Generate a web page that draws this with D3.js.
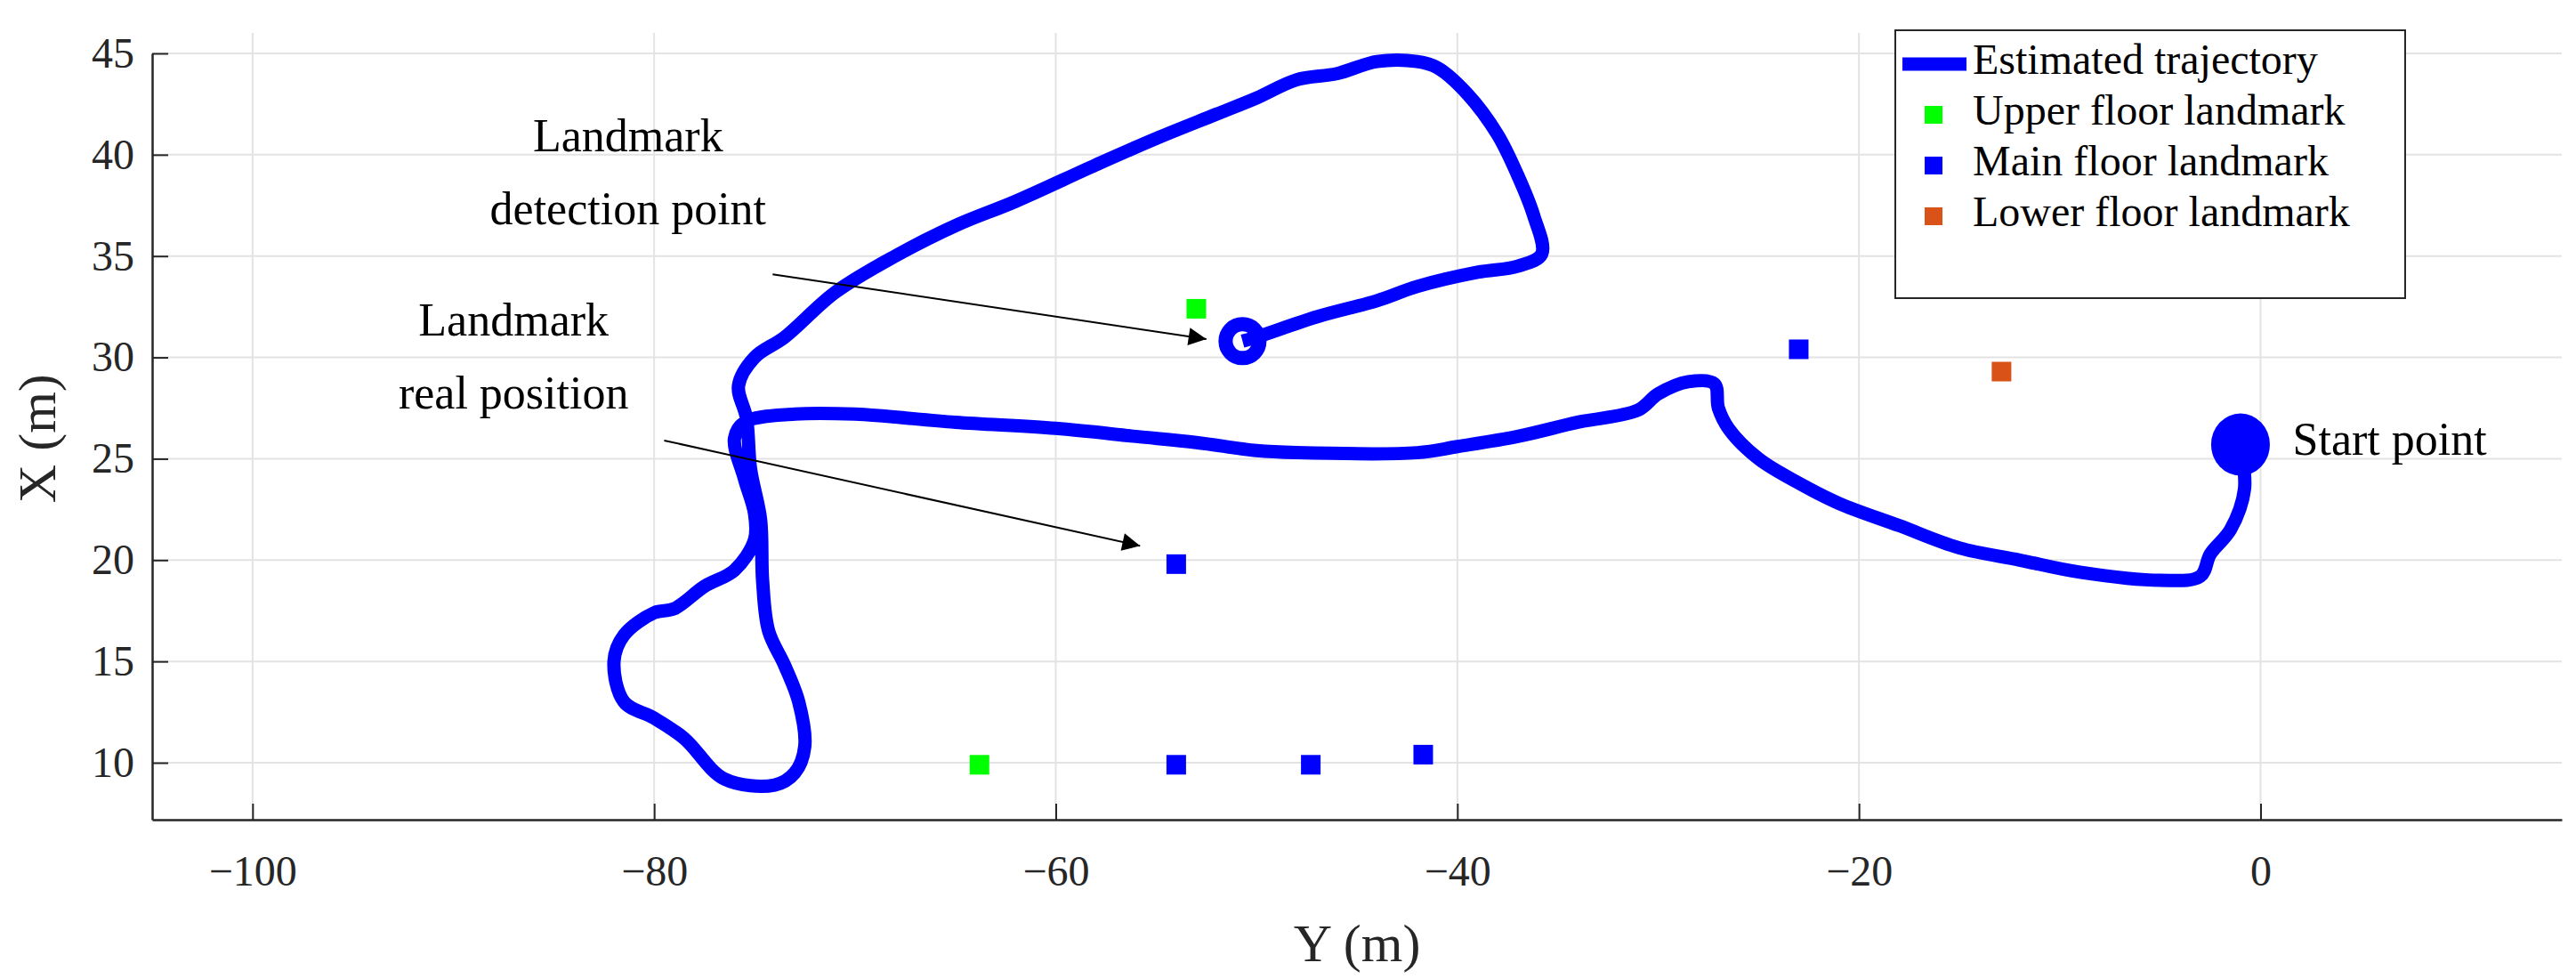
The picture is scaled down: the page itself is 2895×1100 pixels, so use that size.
<!DOCTYPE html>
<html><head><meta charset="utf-8">
<script src="https://cdn.jsdelivr.net/npm/d3@7"></script>
<style>body{margin:0;background:#fff}svg text{font-family:'Liberation Serif','Tinos','DejaVu Serif',serif !important}</style>
</head><body><svg id="c" width="2895" height="1100"></svg>
<script>
// trajectory in (Y, X) metres
var traj = [[-1,25.7],[-0.8,23.5],[-1.5,21.5],[-2.5,20.3],[-3,19.2],[-5,19.0],[-9,19.4],[-12,20.0],[-15,20.6],
 [-18,21.7],[-21,22.8],[-23,23.8],[-25,25.0],[-26.5,26.5],[-27,27.5],[-27.2,28.7],[-28.5,28.8],[-30,28.2],[-31,27.4],
 [-34,26.8],[-37,26.1],[-40,25.6],[-42,25.3],[-48,25.3],[-50,25.4],[-53,25.8],[-56,26.1],[-60,26.5],[-65,26.8],
 [-70,27.2],[-73,27.2],[-75.5,26.8],[-76,26.0],[-75.5,24],[-75,22.3],[-75,21],[-76,19.5],[-77.5,18.7],[-79,17.6],
 [-80,17.4],[-81.5,16.3],[-82,15],[-81.5,13],[-80,12.2],[-78.5,11.2],[-76.5,9.2],[-74,8.9],[-73,9.5],[-72.5,10.8],
 [-72.8,13],[-73.5,14.8],[-74.3,16.5],[-74.6,19],[-74.7,22],[-75.2,24.5],[-75.4,27],[-75.8,28.6],[-75,30],[-73.5,31],
 [-71,33.2],[-68,35],[-65,36.5],[-62,37.7],[-58,39.5],[-55,40.8],[-52,42],[-50,42.8],[-48,43.7],[-46,44],[-44,44.6],
 [-42,44.6],[-41,44.3],[-39.5,43],[-38,41],[-37,39],[-36.2,37],[-35.8,35.1],[-37,34.5],[-39,34.2],[-42,33.5],
 [-44,32.8],[-47,32],[-50,31],[-50.7,30.8]];
var startPt = [-1,25.7];
var endPt = [-50.7,30.8];
var upperLm = [[-53,32.4],[-63.8,9.9]];
var mainLm = [[-23,30.4],[-54,19.8],[-54,9.9],[-47.3,9.9],[-41.7,10.4]];
var lowerLm = [[-12.9,29.3]];
var xTicks = [-100,-80,-60,-40,-20,0];
var yTicks = [10,15,20,25,30,35,40,45];

var svg = d3.select("#c");
var L=171,R=2879,T=37,B=921;
var x = d3.scaleLinear().domain([-105,15]).range([L,R]);
var y = d3.scaleLinear().domain([7.19,45]).range([B,60]);

var g = svg.append("g");
xTicks.forEach(function(t){g.append("line").attr("x1",x(t)).attr("x2",x(t)).attr("y1",B).attr("y2",T).attr("stroke","#e3e3e3").attr("stroke-width",2);});
yTicks.forEach(function(t){g.append("line").attr("x1",L).attr("x2",R).attr("y1",y(t)).attr("y2",y(t)).attr("stroke","#e3e3e3").attr("stroke-width",2);});

var xa = svg.append("g").attr("transform","translate(0,"+B+")").call(d3.axisBottom(x).tickValues(xTicks).tickSizeInner(-18).tickSizeOuter(0).tickPadding(40).tickFormat(function(d){return d<0?"\u2212"+(-d):d;}));
var ya = svg.append("g").attr("transform","translate("+L+",0)").call(d3.axisLeft(y).tickValues(yTicks).tickSizeInner(-18).tickSizeOuter(0).tickPadding(20));
[xa,ya].forEach(function(a){a.attr("font-family",null);
 a.select(".domain").attr("stroke","#262626").attr("stroke-width",2.5);
 a.selectAll(".tick line").attr("stroke","#262626").attr("stroke-width",2);
 a.selectAll("text").attr("font-size",48).attr("fill","#262626");});

svg.append("text").attr("x",x(-45)).attr("y",1080).attr("text-anchor","middle").attr("font-size",60).attr("fill","#262626").text("Y (m)");
svg.append("text").attr("transform","translate(62,"+y(26)+") rotate(-90)").attr("text-anchor","middle").attr("font-size",60).attr("fill","#262626").text("X (m)");

var line = d3.line().curve(d3.curveCatmullRom).x(function(d){return x(d[0]);}).y(function(d){return y(d[1]);});
svg.append("path").datum(traj).attr("d",line).attr("fill","none").attr("stroke","#0000ff").attr("stroke-width",15).attr("stroke-linejoin","round");
svg.append("circle").attr("cx",x(endPt[0])).attr("cy",y(endPt[1])).attr("r",19).attr("fill","none").attr("stroke","#0000ff").attr("stroke-width",16);
svg.append("ellipse").attr("cx",x(startPt[0])).attr("cy",y(startPt[1])).attr("rx",33).attr("ry",35).attr("fill","#0000ff");

function squares(arr,col){arr.forEach(function(d){svg.append("rect").attr("x",x(d[0])-11).attr("y",y(d[1])-11).attr("width",22).attr("height",22).attr("fill",col);});}
squares(upperLm,"#00ff00");squares(mainLm,"#0000ff");squares(lowerLm,"#d95319");

svg.append("defs").append("marker").attr("id","ah").attr("viewBox","0 0 10 10").attr("refX",10).attr("refY",5)
 .attr("orient","auto").attr("markerUnits","userSpaceOnUse")
 .attr("markerWidth",28).attr("markerHeight",20).append("path").attr("d","M0,0L10,5L0,10z").attr("fill","#000");
function arrow(a,b){svg.append("line").attr("x1",x(a[0])).attr("y1",y(a[1])).attr("x2",x(b[0])).attr("y2",y(b[1])).attr("stroke","#000").attr("stroke-width",2).attr("marker-end","url(#ah)");}
arrow([-74.1,34.1],[-52.5,30.9]);
arrow([-79.5,25.9],[-55.8,20.7]);
function label(t,d){svg.append("text").attr("x",x(d[0])).attr("y",y(d[1])).attr("text-anchor","middle").attr("dominant-baseline","middle").attr("font-size",52).attr("fill","#000").text(t);}
label("Landmark",[-81.3,40.7]);label("detection point",[-81.3,37.1]);
label("Landmark",[-87,31.6]);label("real position",[-87,28.0]);
svg.append("text").attr("x",x(1.6)).attr("y",y(25.7)).attr("dominant-baseline","middle").attr("font-size",52).text("Start point");

var lg = svg.append("g");
lg.append("rect").attr("x",2130).attr("y",34).attr("width",573).attr("height",301).attr("fill","#fff").attr("stroke","#262626").attr("stroke-width",2);
var items=[["Estimated trajectory","line","#0000ff"],["Upper floor landmark","sq","#00ff00"],["Main floor landmark","sq","#0000ff"],["Lower floor landmark","sq","#d95319"]];
items.forEach(function(it,i){var yy=72+i*57;
 if(it[1]=="line") lg.append("line").attr("x1",2138).attr("x2",2210).attr("y1",yy).attr("y2",yy).attr("stroke",it[2]).attr("stroke-width",15);
 else lg.append("rect").attr("x",2163).attr("y",yy-10).attr("width",20).attr("height",20).attr("fill",it[2]);
 lg.append("text").attr("x",2217).attr("y",yy).attr("dominant-baseline","middle").attr("font-size",48).attr("fill","#000").text(it[0]);});
</script></body></html>
